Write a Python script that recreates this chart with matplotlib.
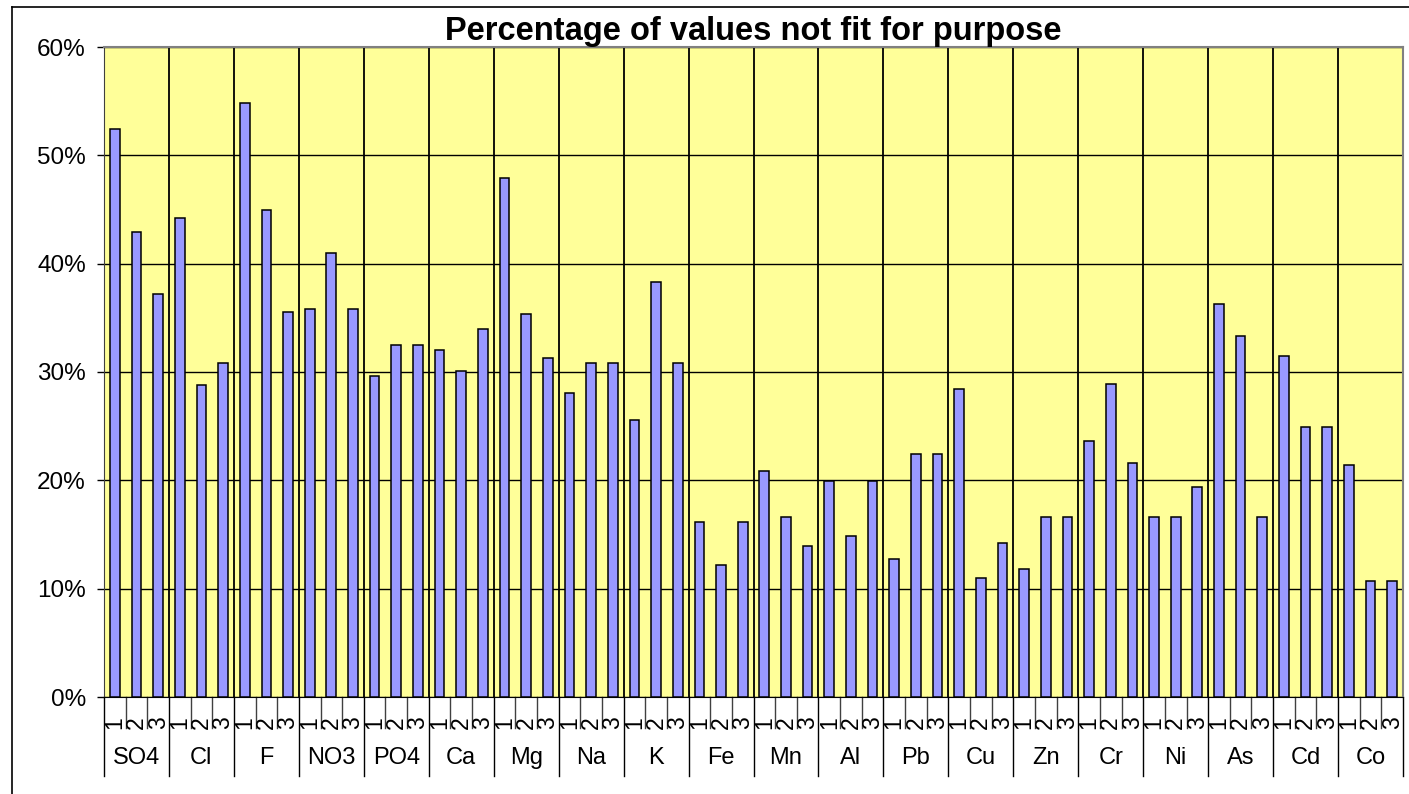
import numpy as np
import matplotlib.pyplot as plt
from matplotlib.lines import Line2D
import matplotlib.transforms as mtransforms

plt.rcParams['font.family'] = ['Liberation Sans', 'DejaVu Sans']

# 측정 항목 (그룹) 과 각 그룹의 1,2,3 값 (%)
groups = ['SO4', 'Cl', 'F', 'NO3', 'PO4', 'Ca', 'Mg', 'Na', 'K', 'Fe',
          'Mn', 'Al', 'Pb', 'Cu', 'Zn', 'Cr', 'Ni', 'As', 'Cd', 'Co']
sub_labels = ['1', '2', '3']
values = [52.4, 42.9, 37.2,   # SO4
          44.2, 28.8, 30.8,   # Cl
          54.8, 45.0, 35.5,   # F
          35.8, 41.0, 35.8,   # NO3
          29.6, 32.5, 32.5,   # PO4
          32.0, 30.1, 34.0,   # Ca
          47.9, 35.4, 31.3,   # Mg
          28.1, 30.8, 30.8,   # Na
          25.6, 38.3, 30.8,   # K
          16.2, 12.2, 16.2,   # Fe
          20.9, 16.6, 13.9,   # Mn
          19.9, 14.9, 19.9,   # Al
          12.7, 22.4, 22.4,   # Pb
          28.4, 11.0, 14.2,   # Cu
          11.8, 16.6, 16.6,   # Zn
          23.6, 28.9, 21.6,   # Cr
          16.6, 16.6, 19.4,   # Ni
          36.3, 33.3, 16.6,   # As
          31.5, 24.9, 24.9,   # Cd
          21.4, 10.7, 10.7]   # Co
yticks = [0, 10, 20, 30, 40, 50, 60]

W, H = 1409, 794
fig = plt.figure(figsize=(W / 100, H / 100), dpi=100)
ax = fig.add_axes([104 / W, 1 - 697 / H, 1299 / W, 650 / H])
ax.set_facecolor('#FFFF99')

n = len(sub_labels)
x = np.arange(len(values))
ax.bar(x, values, width=0.45, color='#9999FF', edgecolor='black', linewidth=1.1, zorder=3)

ax.set_xlim(-0.5, len(values) - 0.5)
ax.set_ylim(0, 60)
ax.set_yticks(yticks)
ax.set_yticklabels([f'{v}%' for v in yticks], fontsize=17.5)
ax.tick_params(axis='y', length=5, width=1, color='black', pad=8)
ax.set_xticks([])
ax.yaxis.grid(True, color='black', linewidth=1)
ax.set_axisbelow(True)

for s in ['top', 'right']:
    ax.spines[s].set_color('#808080')
    ax.spines[s].set_linewidth(1.5)
ax.spines['left'].set_color('#404040')
ax.spines['bottom'].set_color('black')

# 그룹 구분선 (플롯 안)
for g in range(1, len(groups)):
    ax.axvline(g * n - 0.5, color='black', linewidth=1.3, zorder=2)

# 아래쪽 라벨 영역
trans = mtransforms.blended_transform_factory(ax.transData, ax.transAxes)
for i in range(len(values)):
    ax.text(i, -0.039, sub_labels[i % n], transform=trans, rotation=90,
            ha='center', va='center', fontsize=16.5)
for i in range(len(values) + 1):
    if i % n == 0:
        y0 = -0.122
        c = 'black'
    else:
        y0 = -0.048
        c = '#404040'
    ax.add_line(Line2D([i - 0.5, i - 0.5], [0, y0], transform=trans,
                       color=c, linewidth=1, clip_on=False))
for g, name in enumerate(groups):
    ax.text(g * n + 1, -0.094, name, transform=trans, ha='center', va='center', fontsize=17)

ax.set_title('Percentage of values not fit for purpose', fontsize=23.5,
             fontweight='bold', pad=2)

# 바깥 테두리
fig.add_artist(Line2D([12 / W, 12 / W], [0, 1 - 7 / H], color='black', linewidth=1.2))
fig.add_artist(Line2D([12 / W, 1], [1 - 7 / H, 1 - 7 / H], color='black', linewidth=1.2))

fig.savefig('out.png', dpi=100)
